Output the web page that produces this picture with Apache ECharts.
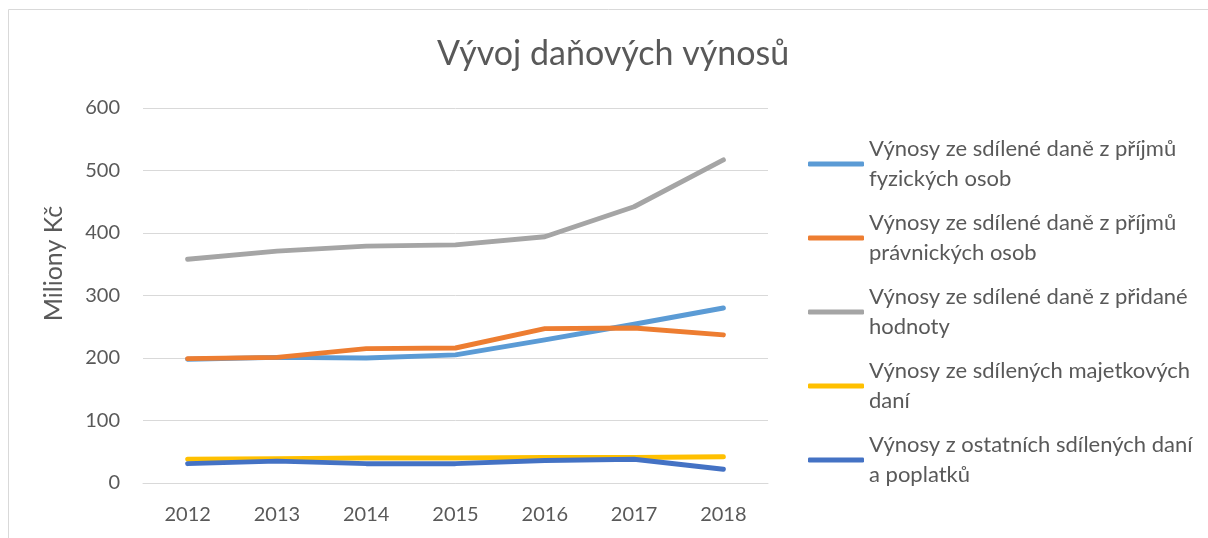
<!DOCTYPE html>
<html>
<head>
<meta charset="utf-8">
<title>Vývoj daňových výnosů</title>
<script src="https://cdn.jsdelivr.net/npm/echarts@6/dist/echarts.min.js"></script>
<style>
  html, body { margin: 0; padding: 0; background: #fff; }
  #chart { width: 1208px; height: 538px; }
</style>
</head>
<body>
<div id="chart"></div>
<script>
// data (Miliony Kč)
const years = ["2012", "2013", "2014", "2015", "2016", "2017", "2018"];
const names = [
  "Výnosy ze sdílené daně z příjmů fyzických osob",
  "Výnosy ze sdílené daně z příjmů právnických osob",
  "Výnosy ze sdílené daně z přidané hodnoty",
  "Výnosy ze sdílených majetkových daní",
  "Výnosy z ostatních sdílených daní a poplatků"
];
// how each legend label wraps
const legendLines = {
  "Výnosy ze sdílené daně z příjmů fyzických osob": "Výnosy ze sdílené daně z příjmů\nfyzických osob",
  "Výnosy ze sdílené daně z příjmů právnických osob": "Výnosy ze sdílené daně z příjmů\nprávnických osob",
  "Výnosy ze sdílené daně z přidané hodnoty": "Výnosy ze sdílené daně z přidané\nhodnoty",
  "Výnosy ze sdílených majetkových daní": "Výnosy ze sdílených majetkových\ndaní",
  "Výnosy z ostatních sdílených daní a poplatků": "Výnosy z ostatních sdílených daní\na poplatků"
};
const dpfo = [198, 201, 200, 205, 229, 254, 280];
const dppo = [199, 201, 215, 216, 247, 248, 237];
const dph = [358, 371, 379, 381, 394, 442, 517];
const majetkove = [38, 39, 40, 40, 41, 41, 42];
const ostatni = [31, 35, 31, 31, 36, 38, 22];

const colors = ["#5B9BD5", "#ED7D31", "#A5A5A5", "#FFC000", "#4472C4"];
const values = [dpfo, dppo, dph, majetkove, ostatni];

const font = "Lato";
const textColor = "#595959";
const gridColor = "#D9D9D9";

const chart = echarts.init(document.getElementById("chart"));

chart.setOption({
  animation: false,
  color: colors,
  textStyle: { fontFamily: font },
  graphic: [
    {
      type: "rect",
      shape: { x: 8.5, y: 9.5, width: 1400, height: 800 },
      style: { fill: "none", stroke: gridColor, lineWidth: 1 },
      silent: true
    }
  ],
  title: {
    text: "Vývoj daňových výnosů",
    left: 437,
    top: 37,
    padding: 0,
    textStyle: { fontFamily: font, fontSize: 34, fontWeight: "normal", color: textColor }
  },
  legend: {
    orient: "vertical",
    left: 808,
    top: 119,
    padding: 0,
    itemGap: -16,
    itemWidth: 56,
    itemHeight: 5,
    icon: "roundRect",
    data: names,
    formatter: name => legendLines[name],
    textStyle: {
      fontFamily: font,
      fontSize: 22,
      lineHeight: 30,
      color: textColor,
      padding: [30, 0, 0, 0]
    }
  },
  grid: { left: 143, right: 440, top: 108, bottom: 55 },
  xAxis: {
    type: "category",
    data: years,
    boundaryGap: true,
    axisLine: { lineStyle: { color: gridColor, width: 1 } },
    axisTick: { show: false },
    axisLabel: { margin: 22, fontSize: 20, color: textColor, fontFamily: font }
  },
  yAxis: {
    type: "value",
    min: 0,
    max: 600,
    interval: 100,
    name: "Miliony Kč",
    nameLocation: "middle",
    nameGap: 77,
    nameTextStyle: { fontSize: 25, color: textColor, fontFamily: font, padding: [0, 0, 0, 64] },
    axisLine: { show: false },
    axisTick: { show: false },
    splitLine: { lineStyle: { color: gridColor, width: 1 } },
    axisLabel: { margin: 23, fontSize: 20, color: textColor, fontFamily: font }
  },
  series: names.map((name, i) => ({
    name: name,
    type: "line",
    data: values[i],
    symbol: "none",
    lineStyle: { width: 5, cap: "round", join: "round" }
  }))
});
</script>
</body>
</html>
